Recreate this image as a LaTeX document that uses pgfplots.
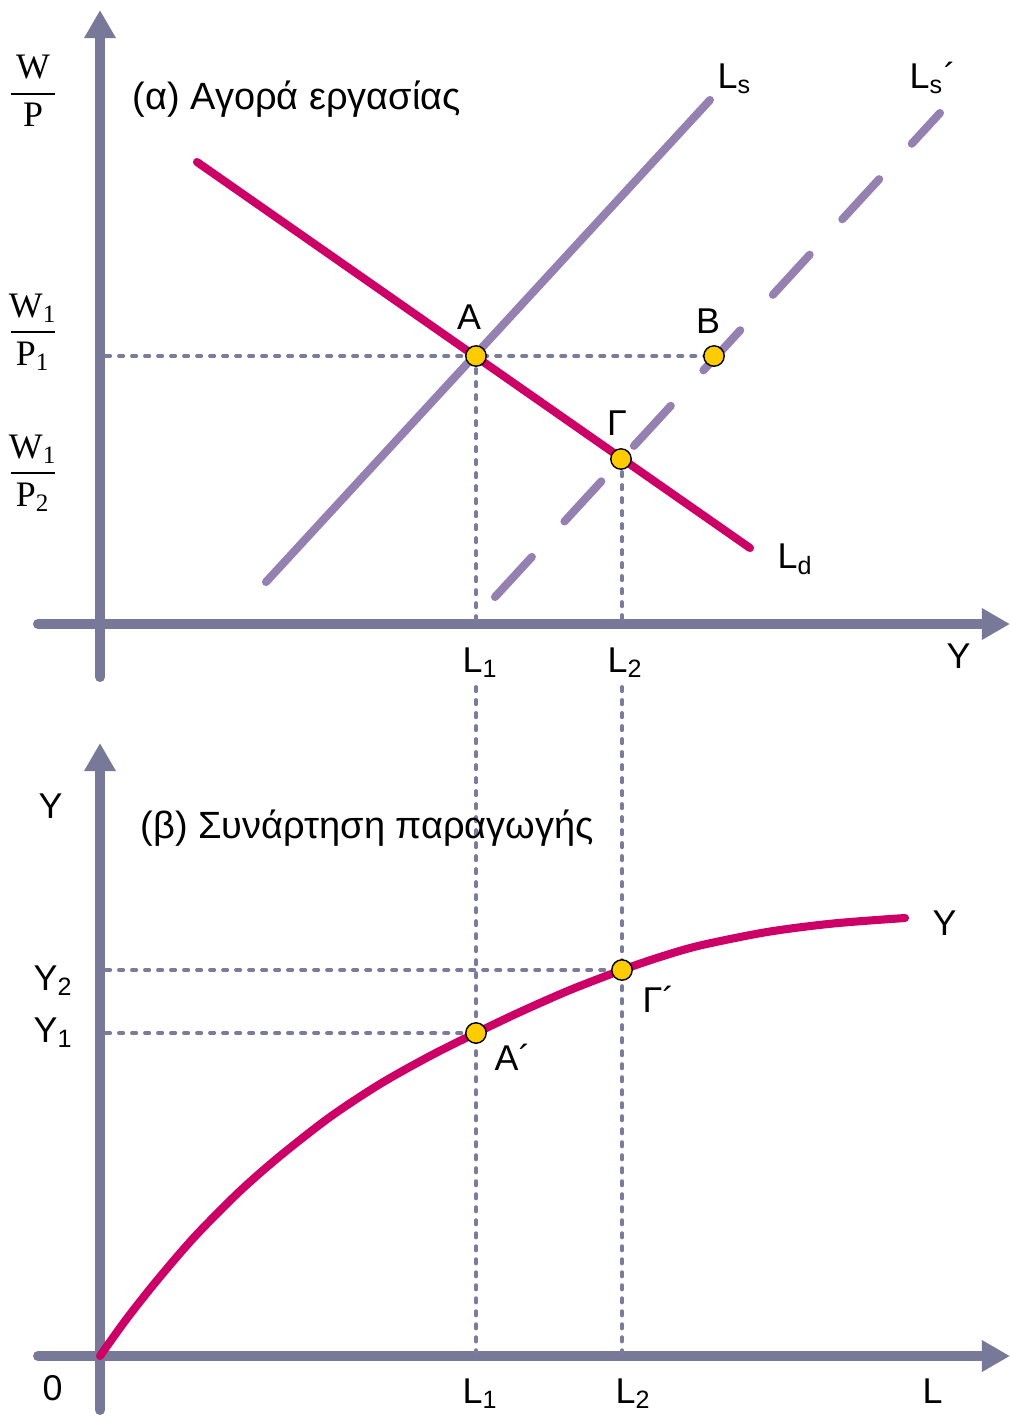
\documentclass[border=0pt]{standalone}
\usepackage{pgfplots}
\pgfplotsset{compat=1.18}
\usetikzlibrary{arrows.meta}
\usepackage{fontspec}
\setmainfont{Liberation Sans}
\newfontfamily\serif{Liberation Serif}

\definecolor{axisgray}{HTML}{787898}
\definecolor{guide}{HTML}{7B7B9B}
\definecolor{ldred}{HTML}{CC0066}
\definecolor{lspurple}{HTML}{9580B2}
\definecolor{dotgold}{HTML}{FFCC00}

\newcommand{\frc}[2]{$\displaystyle\frac{\makebox[12.5pt]{\serif #1}}{\makebox[12.5pt]{\serif #2}}$}

\begin{document}
\begin{tikzpicture}[
    axisline/.style={axisgray, line width=2.85pt, line cap=round,
        -{Triangle[length=8pt,width=8.5pt]}},
    guideline/.style={guide, line width=1.1pt, line cap=round,
        dash pattern=on 1.2pt off 2.5pt},
    lbl/.style={font=\fontsize{10.2}{12}\selectfont, inner sep=0pt},
    ttl/.style={font=\fontsize{10.8}{13}\selectfont, inner sep=0pt, anchor=base west},
]
\begin{axis}[
    width=10.11cm, height=14.16cm, scale only axis,
    hide axis, clip=false,
    xmin=0, xmax=1011, ymin=0, ymax=1416,
    y dir=reverse,
    dot/.style={only marks, mark=*, mark size=2.9pt,
        mark options={fill=dotgold, draw=black, line width=0.4pt}},
]

% ---- (a) labour market ----
\addplot[axisline] coordinates {(100,677) (100,10)};
\addplot[axisline] coordinates {(38,624) (1010,624)};

\addplot[guideline] coordinates {(106,356) (714,356)};
\addplot[guideline] coordinates {(476,356) (476,628)};
\addplot[guideline] coordinates {(622,459) (622,628)};

% Ls and Ls'
\addplot[lspurple, line width=2.3pt, line cap=round] coordinates {(266,582) (710,100)};
\addplot[lspurple, line width=2.3pt, line cap=round,
    dash pattern=on 15.5pt off 13.7pt] coordinates {(495,597) (940,113)};
% Ld
\addplot[ldred, line width=2.3pt, line cap=round] coordinates {(197,162) (750,548)};

\addplot[dot] coordinates {(476,356) (714,356) (621,459)};

% ---- (b) production function ----
\addplot[axisline] coordinates {(100,1410) (100,743)};
\addplot[axisline] coordinates {(38,1356) (1010,1356)};

\addplot[guideline] coordinates {(476,687) (476,1353)};
\addplot[guideline] coordinates {(622,687) (622,1353)};
\addplot[guideline] coordinates {(106,970) (622,970)};
\addplot[guideline] coordinates {(106,1033) (476,1033)};

\addplot[ldred, line width=2.3pt, line cap=round, smooth] coordinates {
    (100,1356) (125,1321) (150,1289) (175,1259) (200,1231) (240,1191)
    (280,1156) (330,1117) (380,1084) (430,1056) (476,1033) (520,1012)
    (570,990) (622,970) (660,957) (700,945.5) (767,932) (833,923.5) (905,918)};

\addplot[dot] coordinates {(476,1033) (622,970)};

% ---- labels ----
\node[lbl] at (33,91) {\frc{W}{P}};
\node[lbl] at (33,332) {\frc{W\textsubscript{1}}{P\textsubscript{1}}};
\node[lbl] at (33,473) {\frc{W\textsubscript{1}}{P\textsubscript{2}}};

\node[ttl] at (132,109) {(α) Αγορά εργασίας};
\node[lbl, anchor=base west] at (717,88) {L\textsubscript{s}};
\node[lbl, anchor=base west] at (909,88) {L\textsubscript{s}´};
\node[lbl, anchor=base] at (469,329) {A};
\node[lbl, anchor=base] at (708,333) {B};
\node[lbl, anchor=base] at (617,435) {Γ};
\node[lbl, anchor=base west] at (777,568) {L\textsubscript{d}};
\node[lbl, anchor=base west] at (462,672) {L\textsubscript{1}};
\node[lbl, anchor=base west] at (607,672) {L\textsubscript{2}};
\node[lbl, anchor=base west] at (946,668) {Y};

\node[lbl, anchor=base west] at (38,818) {Y};
\node[ttl] at (140,838) {(β) Συνάρτηση παραγωγής};
\node[lbl, anchor=base west] at (932,935) {Y};
\node[lbl, anchor=base west] at (33,990) {Y\textsubscript{2}};
\node[lbl, anchor=base west] at (33,1042) {Y\textsubscript{1}};
\node[lbl, anchor=base west] at (642,1012) {Γ´};
\node[lbl, anchor=base west] at (494,1070) {A´};
\node[lbl, anchor=base west] at (42,1400) {0};
\node[lbl, anchor=base west] at (462,1403) {L\textsubscript{1}};
\node[lbl, anchor=base west] at (615,1403) {L\textsubscript{2}};
\node[lbl, anchor=base west] at (922,1403) {L};

\end{axis}
\pgfresetboundingbox
\useasboundingbox (current axis.south west) rectangle (current axis.north east);
\end{tikzpicture}
\end{document}
